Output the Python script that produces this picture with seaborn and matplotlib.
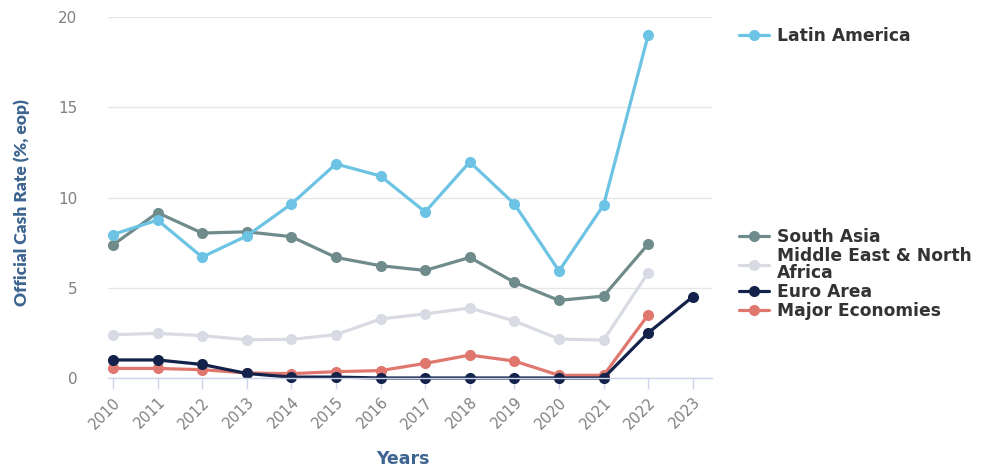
import matplotlib
matplotlib.use("Agg")
import matplotlib.pyplot as plt
from matplotlib.lines import Line2D
import seaborn as sns
import pandas as pd

years = list(range(2010, 2024))

latin_america = [7.95, 8.75, 6.7, 7.87, 9.64, 11.86, 11.19, 9.2, 11.97, 9.64, 5.93, 9.58, 19.0]
south_asia = [7.37, 9.16, 8.03, 8.1, 7.83, 6.68, 6.22, 5.96, 6.68, 5.3, 4.3, 4.54, 7.42]
mena = [2.4, 2.47, 2.35, 2.12, 2.14, 2.4, 3.27, 3.55, 3.88, 3.16, 2.16, 2.1, 5.84]
euro_area = [1.0, 1.0, 0.75, 0.25, 0.05, 0.05, 0.0, 0.0, 0.0, 0.0, 0.0, 0.0, 2.5, 4.5]
major_economies = [0.53, 0.53, 0.46, 0.28, 0.24, 0.35, 0.41, 0.81, 1.27, 0.94, 0.15, 0.15, 3.5]

series = {
    "Latin America": latin_america,
    "South Asia": south_asia,
    "Middle East & North Africa": mena,
    "Euro Area": euro_area,
    "Major Economies": major_economies,
}
colors = {
    "Latin America": "#6CC3E3",
    "South Asia": "#6F8B8B",
    "Middle East & North Africa": "#D9DBE4",
    "Euro Area": "#13224A",
    "Major Economies": "#E0776E",
}
legend_labels = {
    "Latin America": "Latin America",
    "South Asia": "South Asia",
    "Middle East & North Africa": "Middle East & North\nAfrica",
    "Euro Area": "Euro Area",
    "Major Economies": "Major Economies",
}

rows = []
for name, vals in series.items():
    for y, v in zip(years, vals):
        rows.append({"Year": y, "Value": v, "Region": name})
df = pd.DataFrame(rows)

sns.set_theme(style="white")
plt.rcParams["font.family"] = ["DejaVu Sans"]

fig = plt.figure(figsize=(9.9, 4.67), dpi=100)
ax = fig.add_axes([108 / 990, 1 - 378 / 467, (712 - 108) / 990, (378 - 17) / 467])

order = ["Major Economies", "Euro Area", "Middle East & North Africa", "South Asia", "Latin America"]
sns.lineplot(data=df, x="Year", y="Value", hue="Region", hue_order=order,
             palette=colors, marker="o", markersize=8, markeredgewidth=0,
             linewidth=2.3, legend=False, ax=ax)
for line in ax.lines:
    line.set_clip_on(False)

ax.set_xlim(2009.89, 2023.43)
ax.set_ylim(0, 20)
ax.set_yticks([0, 5, 10, 15, 20])
ax.set_xticks(years)
ax.set_xticklabels([str(y) for y in years], rotation=45, ha="right",
                   rotation_mode="anchor", color="#808080", fontsize=10.5)
ax.tick_params(axis="y", labelcolor="#808080", labelsize=11, length=0, pad=22)
ax.tick_params(axis="x", length=8, color="#CCD6EB", width=1, pad=4, direction="out", bottom=True)
ax.yaxis.grid(True, color="#E6E6E6", linewidth=1)
ax.xaxis.grid(False)
for s in ["top", "right", "left"]:
    ax.spines[s].set_visible(False)
ax.spines["bottom"].set_color("#CCD6EB")
ax.spines["bottom"].set_linewidth(1)
ax.set_axisbelow(True)

ax.set_xlabel("Years", fontsize=12.5, fontweight="bold", color="#3E6591",
              family=["DejaVu Sans"])
ax.xaxis.set_label_coords((403 - 108) / (712 - 108), -(459 - 378) / (378 - 17))
ax.xaxis.label.set_va("center")
ax.set_ylabel("Official Cash Rate (%, eop)", fontsize=12.5, fontweight="heavy",
              color="#3E6591", family=["Lato", "DejaVu Sans"])
ax.yaxis.set_label_coords(-(108 - 22) / (712 - 108), (378 - 203) / (378 - 17))
ax.yaxis.label.set_va("center")

def handle(name):
    return Line2D([0], [0], color=colors[name], linewidth=2.3, marker="o",
                  markersize=8, markeredgewidth=0)

lprop = {"weight": "bold", "size": 12.3, "family": ["DejaVu Sans"]}
leg1 = fig.legend(handles=[handle("Latin America")], labels=[legend_labels["Latin America"]],
                  loc="upper left", bbox_to_anchor=(727 / 990, 1 - 15 / 467), frameon=False,
                  prop=lprop, handlelength=1.75, handletextpad=0.45, borderpad=0.2)
rest = ["South Asia", "Middle East & North Africa", "Euro Area", "Major Economies"]
leg2 = fig.legend(handles=[handle(n) for n in rest], labels=[legend_labels[n] for n in rest],
                  loc="upper left", bbox_to_anchor=(727 / 990, 1 - 216 / 467), frameon=False,
                  prop=lprop, handlelength=1.75, handletextpad=0.45, borderpad=0.2,
                  labelspacing=0.05)
for leg in (leg1, leg2):
    for t in leg.get_texts():
        t.set_color("#333333")
        t.set_linespacing(0.95)

fig.savefig("out.png", dpi=100)
